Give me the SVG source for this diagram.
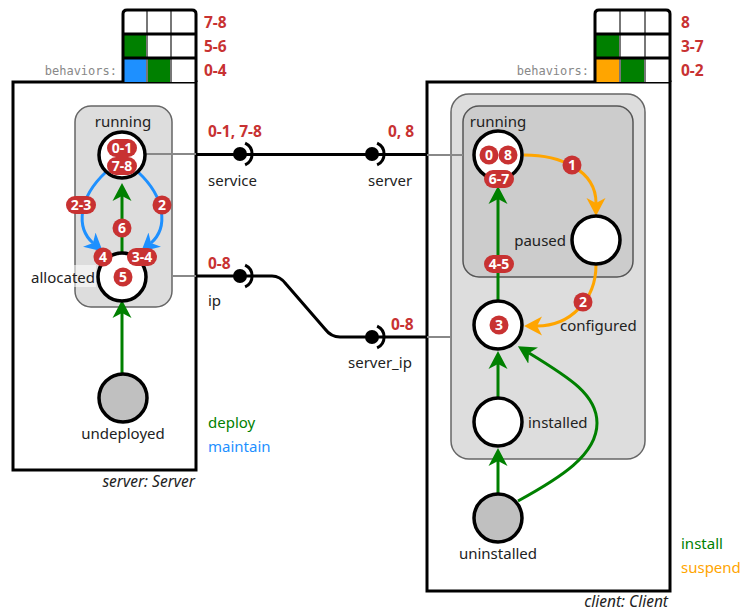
<svg xmlns="http://www.w3.org/2000/svg" width="742" height="613" viewBox="0 0 742 613">
<style>
text { font-family: "Noto Sans", "Open Sans", sans-serif; }
.lbl { font-size: 15px; fill: #222; }
.red { font-size: 15.5px; font-weight: bold; fill: #c83232; }
.mono { font-family: "DejaVu Sans Mono", "Liberation Mono", monospace; font-size: 12px; fill: #888; text-anchor: end; }
.cap { font-size: 15.5px; font-style: italic; fill: #222; text-anchor: end; }
.st { fill: #fff; stroke: #000; stroke-width: 3.5; }
.init { fill: #c0c0c0; stroke: #000; stroke-width: 3.5; }
.badge { fill: #c83232; }
.bt { font-size: 14px; font-weight: bold; fill: #fff; text-anchor: middle; }
.box { fill: #fff; stroke: #000; stroke-width: 3; }
.grid { fill: none; stroke: #000; stroke-width: 3; }
.vdiv { stroke: #777; stroke-width: 2; }
.hdiv { stroke: #000; stroke-width: 3; }
.gray1 { fill: #ddd; stroke: #666; stroke-width: 1.5; }
.gray2 { fill: #ccc; stroke: #555; stroke-width: 1.5; }
.gline { stroke: #888; stroke-width: 2; fill: none; }
.bline { stroke: #000; stroke-width: 3; fill: none; }
.sock { stroke: #000; stroke-width: 3; fill: none; }
.tg { stroke: #008000; stroke-width: 3; fill: none; marker-end: url(#ag); }
.tb { stroke: #1e90ff; stroke-width: 3; fill: none; marker-end: url(#ab); }
.to { stroke: #ffa500; stroke-width: 3; fill: none; marker-end: url(#ao); }
</style>
<defs>
<marker id="ag" viewBox="0 -10 18 20" markerUnits="userSpaceOnUse" markerWidth="18" markerHeight="20" refX="5" refY="0" orient="auto"><path d="M18,0 L0,-9.5 L5,0 L0,9.5 z" fill="#008000"/></marker>
<marker id="ab" viewBox="0 -10 18 20" markerUnits="userSpaceOnUse" markerWidth="18" markerHeight="20" refX="5" refY="0" orient="auto"><path d="M18,0 L0,-9.5 L5,0 L0,9.5 z" fill="#1e90ff"/></marker>
<marker id="ao" viewBox="0 -10 18 20" markerUnits="userSpaceOnUse" markerWidth="18" markerHeight="20" refX="5" refY="0" orient="auto"><path d="M18,0 L0,-9.5 L5,0 L0,9.5 z" fill="#ffa500"/></marker>
</defs>

<!-- Server component -->
<g id="server">
  <rect class="box" x="13" y="82" width="183" height="388"/>
  <g id="server-behaviors">
    <rect x="123" y="10" width="73" height="72" fill="#fff"/>
    <rect x="123" y="34" width="24" height="24" fill="#008000"/>
    <rect x="123" y="58" width="24" height="24" fill="#1e90ff"/>
    <rect x="147" y="58" width="24" height="24" fill="#008000"/>
    <line class="vdiv" x1="147" y1="10" x2="147" y2="82"/>
    <line class="vdiv" x1="171" y1="10" x2="171" y2="82"/>
    <line class="hdiv" x1="123" y1="34" x2="196" y2="34"/>
    <line class="hdiv" x1="123" y1="58" x2="196" y2="58"/>
    <path class="grid" d="M123,82 V14 Q123,10 127,10 H192 Q196,10 196,14 V82"/>
    <text class="mono" x="117" y="75">behaviors:</text>
    <text class="red" x="204" y="28">7-8</text>
    <text class="red" x="204" y="52">5-6</text>
    <text class="red" x="204" y="76">0-4</text>
  </g>
  <rect class="gray1" x="75" y="106" width="97" height="201" rx="16"/>
  <text class="cap" x="195" y="487">server: Server</text>
</g>

<!-- Client component -->
<g id="client">
  <rect class="box" x="427" y="82" width="243" height="509"/>
  <g id="client-behaviors">
    <rect x="595" y="10" width="75" height="72" fill="#fff"/>
    <rect x="595" y="34" width="25" height="24" fill="#008000"/>
    <rect x="595" y="58" width="25" height="24" fill="#ffa500"/>
    <rect x="620" y="58" width="25" height="24" fill="#008000"/>
    <line class="vdiv" x1="620" y1="10" x2="620" y2="82"/>
    <line class="vdiv" x1="645" y1="10" x2="645" y2="82"/>
    <line class="hdiv" x1="595" y1="34" x2="670" y2="34"/>
    <line class="hdiv" x1="595" y1="58" x2="670" y2="58"/>
    <path class="grid" d="M595,82 V14 Q595,10 599,10 H666 Q670,10 670,14 V82"/>
    <text class="mono" x="589" y="75">behaviors:</text>
    <text class="red" x="681" y="28">8</text>
    <text class="red" x="681" y="52">3-7</text>
    <text class="red" x="681" y="76">0-2</text>
  </g>
  <rect class="gray1" x="451" y="94" width="194" height="365" rx="18"/>
  <rect class="gray2" x="463" y="106" width="170" height="171" rx="16"/>
  <text class="cap" x="668" y="607">client: Client</text>
</g>

<!-- Connectors -->
<g id="connectors">
  <line class="gline" x1="144" y1="154" x2="196" y2="154"/>
  <line class="gline" x1="172" y1="276" x2="196" y2="276"/>
  <line class="gline" x1="427" y1="155" x2="463" y2="155"/>
  <line class="gline" x1="427" y1="337" x2="451" y2="337"/>
  <path class="bline" d="M196,154.5 H427"/>
  <path class="bline" d="M196,276 H272 Q280,276 286,284 L325,329 Q331,337 340,337 H427"/>
  <circle cx="240" cy="154" r="7"/>
  <path class="sock" d="M245.1,143.1 A12,12 0 0 1 245.1,164.9"/>
  <circle cx="372" cy="154" r="7"/>
  <path class="sock" d="M377.1,143.1 A12,12 0 0 1 377.1,164.9"/>
  <circle cx="240" cy="276" r="7"/>
  <path class="sock" d="M245.1,265.1 A12,12 0 0 1 245.1,286.9"/>
  <circle cx="372" cy="337" r="7"/>
  <path class="sock" d="M377.1,326.1 A12,12 0 0 1 377.1,347.9"/>
  <text class="red" x="208" y="137">0-1, 7-8</text>
  <text class="lbl" x="208" y="186">service</text>
  <text class="red" x="388" y="137">0, 8</text>
  <text class="lbl" x="368" y="186">server</text>
  <text class="red" x="208" y="269">0-8</text>
  <text class="lbl" x="208" y="306">ip</text>
  <text class="red" x="391" y="330">0-8</text>
  <text class="lbl" x="348" y="368">server_ip</text>

  <!-- server transitions -->
  <path class="tg" d="M122,373 V313"/>
  <path class="tg" d="M122,253 V196"/>
  <path class="tb" d="M106,172 C78,198 76,228 93,243"/>
  <path class="tb" d="M138,172 C166,198 168,228 151,243"/>
  <!-- client transitions -->
  <path class="tg" d="M498,493 V461"/>
  <path class="tg" d="M498,397 V364"/>
  <path class="tg" d="M498,300 V199"/>
  <path class="tg" d="M518,501 C560,478 597,455 597,423 C597,395 570,378 529,353"/>
  <path class="to" d="M524,155 C560,155 596,170 596,203"/>
  <path class="to" d="M596,265 C596,300 570,326 537,326"/>
</g>

<!-- Server states -->
<g id="server-running">
  <circle class="st" cx="122" cy="155" r="23"/>
  <text class="lbl" x="123" y="127" text-anchor="middle">running</text>
</g>
<g id="server-allocated">
  <circle class="st" cx="122" cy="277" r="24"/>
  <rect x="26" y="265" width="70" height="22" fill="#fff" opacity="0.55"/>
  <text class="lbl" x="95" y="283" text-anchor="end">allocated</text>
</g>
<g id="server-undeployed">
  <circle class="init" cx="123" cy="398" r="24"/>
  <text class="lbl" x="123" y="439" text-anchor="middle">undeployed</text>
</g>

<!-- Client states -->
<g id="client-running">
  <circle class="st" cx="498" cy="155" r="24"/>
  <text class="lbl" x="498" y="127" text-anchor="middle">running</text>
</g>
<g id="client-paused">
  <circle class="st" cx="596" cy="240" r="24"/>
  <text class="lbl" x="566" y="246" text-anchor="end">paused</text>
</g>
<g id="client-configured">
  <circle class="st" cx="498" cy="325" r="24"/>
  <text class="lbl" x="560" y="331">configured</text>
</g>
<g id="client-installed">
  <circle class="st" cx="498" cy="422" r="24"/>
  <text class="lbl" x="528" y="428">installed</text>
</g>
<g id="client-uninstalled">
  <circle class="init" cx="498" cy="518" r="24"/>
  <text class="lbl" x="498" y="559" text-anchor="middle">uninstalled</text>
</g>

<!-- Badges -->
<g id="badges">
  <rect class="badge" x="107" y="139" width="30" height="18" rx="9"/>
  <text class="bt" x="122" y="153">0-1</text>
  <rect class="badge" x="107" y="157" width="30" height="18" rx="9"/>
  <text class="bt" x="122" y="171">7-8</text>
  <rect class="badge" x="66" y="196" width="30" height="18" rx="9"/>
  <text class="bt" x="81" y="210">2-3</text>
  <circle class="badge" cx="162" cy="205" r="9.5"/>
  <text class="bt" x="162" y="210">2</text>
  <circle class="badge" cx="122" cy="228" r="9.5"/>
  <text class="bt" x="122" y="233">6</text>
  <circle class="badge" cx="103" cy="257" r="9.5"/>
  <text class="bt" x="103" y="262">4</text>
  <rect class="badge" x="127" y="248" width="30" height="18" rx="9"/>
  <text class="bt" x="142" y="262">3-4</text>
  <circle class="badge" cx="123" cy="277" r="9.5"/>
  <text class="bt" x="123" y="282">5</text>

  <circle class="badge" cx="489" cy="155" r="9.5"/>
  <text class="bt" x="489" y="160">0</text>
  <circle class="badge" cx="508" cy="155" r="9.5"/>
  <text class="bt" x="508" y="160">8</text>
  <rect class="badge" x="484" y="170" width="30" height="18" rx="9"/>
  <text class="bt" x="499" y="184">6-7</text>
  <rect class="badge" x="484" y="255" width="30" height="18" rx="9"/>
  <text class="bt" x="499" y="269">4-5</text>
  <circle class="badge" cx="572" cy="165" r="9.5"/>
  <text class="bt" x="572" y="170">1</text>
  <circle class="badge" cx="583" cy="302" r="9.5"/>
  <text class="bt" x="583" y="307">2</text>
  <circle class="badge" cx="499" cy="325" r="9.5"/>
  <text class="bt" x="499" y="330">3</text>
</g>

<!-- Legends -->
<g id="legend-server">
  <text class="lbl" x="208" y="428" style="fill:#008000">deploy</text>
  <text class="lbl" x="208" y="452" style="fill:#1e90ff">maintain</text>
</g>
<g id="legend-client">
  <text class="lbl" x="681" y="549" style="fill:#008000">install</text>
  <text class="lbl" x="681" y="573" style="fill:#ffa500">suspend</text>
</g>
</svg>
